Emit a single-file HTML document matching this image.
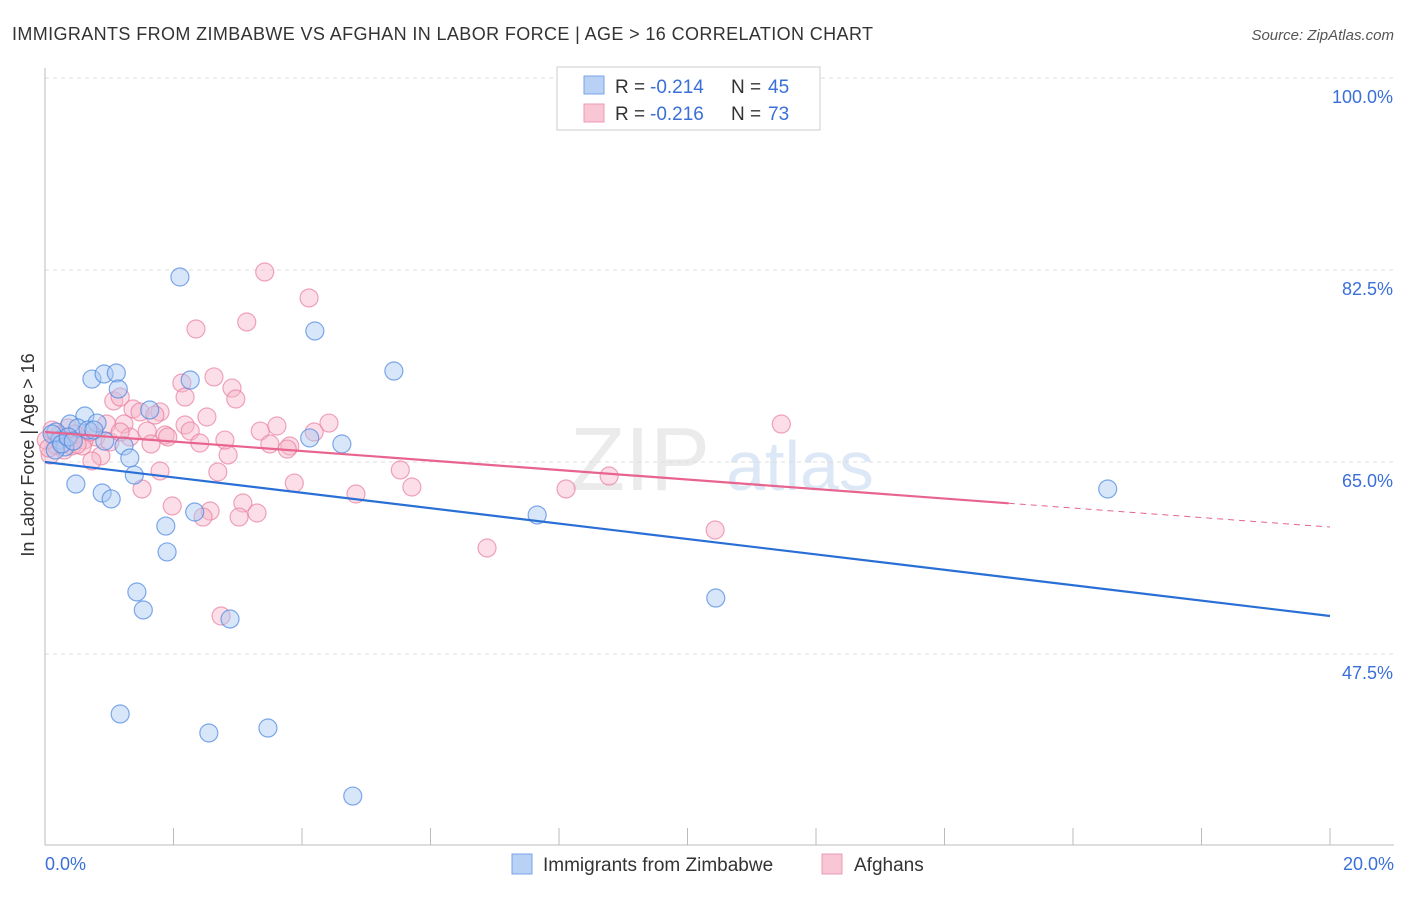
<!DOCTYPE html>
<html><head><meta charset="utf-8"><style>
body{margin:0;background:#fff;font-family:"Liberation Sans",sans-serif;}
svg text{font-family:"Liberation Sans",sans-serif;}
</style></head><body>
<svg id="chart" width="1406" height="892">
<text x="12" y="40" font-size="18" fill="#333" textLength="861" lengthAdjust="spacing">IMMIGRANTS FROM ZIMBABWE VS AFGHAN IN LABOR FORCE | AGE &gt; 16 CORRELATION CHART</text>
<text x="1394" y="40" font-size="15" fill="#555" font-style="italic" text-anchor="end">Source: ZipAtlas.com</text>
<text x="640" y="490" font-size="90" fill="#ebebeb" font-family="Liberation Serif" text-anchor="middle">ZIP</text>
<text x="800" y="490" font-size="70" fill="#dde8f7" text-anchor="middle">atlas</text>
<g id="grid"></g><g id="axes"></g><g id="pts"></g><g id="trends"></g>
<text transform="translate(34,455) rotate(-90)" font-size="18" fill="#333" text-anchor="middle">In Labor Force | Age &gt; 16</text>
<text x="45" y="870" font-size="18" fill="#3a6fd8">0.0%</text>
<text x="1394" y="870" font-size="18" fill="#3a6fd8" text-anchor="end">20.0%</text>
<g>
<rect x="557" y="67" width="263" height="63" fill="#fff" stroke="#ccc"/>
<rect x="584" y="76" width="20" height="18" fill="#b9d1f5" stroke="#7ba3e6"/>
<rect x="584" y="104" width="20" height="18" fill="#f8c6d5" stroke="#ee9bb5"/>
<text x="615" y="93" font-size="19" fill="#333">R =</text>
<text x="650" y="93" font-size="19" fill="#3a6fd8">-0.214</text>
<text x="731" y="93" font-size="19" fill="#333">N =</text>
<text x="768" y="93" font-size="19" fill="#3a6fd8">45</text>
<text x="615" y="120" font-size="19" fill="#333">R =</text>
<text x="650" y="120" font-size="19" fill="#3a6fd8">-0.216</text>
<text x="731" y="120" font-size="19" fill="#333">N =</text>
<text x="768" y="120" font-size="19" fill="#3a6fd8">73</text>
</g>
<g>
<rect x="512" y="854" width="20" height="20" fill="#b9d1f5" stroke="#7ba3e6"/>
<text x="543" y="871" font-size="19" fill="#333">Immigrants from Zimbabwe</text>
<rect x="822" y="854" width="20" height="20" fill="#f8c6d5" stroke="#ee9bb5"/>
<text x="854" y="871" font-size="19" fill="#333">Afghans</text>
</g>
</svg>
<script>
const yTicks=[100,82.5,65,47.5];
const yTickLabels=["100.0%","82.5%","65.0%","47.5%"];
const xTicks=[0,2,4,6,8,10,12,14,16,18,20];
const blueX=[2.10,4.20,5.43,0.73,0.92,1.11,1.14,2.26,1.63,0.62,0.39,0.81,0.51,0.67,0.17,0.23,0.31,0.93,1.23,1.32,1.39,0.48,0.89,1.03,1.88,1.90,2.33,1.43,1.53,2.88,1.17,2.55,3.47,4.79,4.12,4.62,7.66,10.44,16.54,0.11,0.16,0.26,0.36,0.76,0.44];
const blueY=[81.86,76.94,73.29,72.56,73.02,73.11,71.65,72.47,69.74,69.19,68.46,68.55,68.10,67.91,67.73,67.00,66.37,66.91,66.46,65.36,63.81,62.99,62.17,61.63,59.16,56.80,60.44,53.15,51.51,50.69,42.03,40.30,40.75,34.55,67.19,66.64,60.17,52.60,62.54,67.55,66.09,66.64,67.28,67.91,66.91];
const pinkX=[3.42,4.11,2.35,3.14,2.63,2.13,2.91,2.18,2.97,1.07,1.17,1.37,1.79,1.48,1.71,2.52,4.42,11.46,0.96,1.23,1.59,1.87,2.18,2.26,1.91,3.35,3.61,4.19,0.79,1.32,2.41,1.65,3.50,3.81,3.77,2.85,0.87,0.73,1.79,2.69,5.53,8.78,3.88,5.71,1.51,4.84,8.11,1.98,3.08,2.57,3.30,3.02,2.46,6.88,10.43,2.74,0.23,0.30,0.42,0.61,0.08,0.17,0.36,0.47,0.02,1.01,0.58,0.70,1.17,0.06,0.11,2.80,0.5];
const pinkY=[82.32,79.95,77.12,77.76,72.75,72.20,71.74,70.92,70.74,70.56,70.92,69.83,69.56,69.56,69.28,69.10,68.55,68.46,68.46,68.46,67.82,67.46,68.37,67.82,67.28,67.82,68.28,67.73,67.28,67.28,66.73,66.64,66.64,66.46,66.18,65.64,65.55,65.09,64.18,64.09,64.27,63.72,63.08,62.72,62.54,62.08,62.54,60.99,61.26,60.53,60.35,59.98,59.98,57.16,58.80,50.96,67.46,66.09,66.46,67.00,65.64,66.55,68.10,67.55,67.00,66.82,66.46,67.73,67.73,66.27,67.91,67.00,66.6];
const blueTrend=[65.0,50.96];
const pinkTrend=[67.73,59.07];
const pinkSolidEnd=15.0;
const NS="http://www.w3.org/2000/svg";
const xS=v=>45+v/20*1285;
const yS=v=>78+(100-v)*10.971;
function mk(parent,tag,attrs){const e=document.createElementNS(NS,tag);for(const k in attrs)e.setAttribute(k,attrs[k]);document.getElementById(parent).appendChild(e);return e;}
yTicks.forEach((t,i)=>{
 const l=mk('grid','line',{x1:45,x2:1394,y1:yS(t),y2:yS(t),stroke:'#ddd','stroke-dasharray':'4,4'});
 
 
 const tx=mk('grid','text',{x:1393,y:yS(t)+25,'font-size':18,fill:'#3a6fd8','text-anchor':'end'});
 tx.textContent=yTickLabels[i];
 
 
});
const ax=mk('axes','line',{x1:45,x2:45,y1:68,y2:845,stroke:'#bbb'});


const bx=mk('axes','line',{x1:45,x2:1394,y1:845,y2:845,stroke:'#bbb'});


xTicks.forEach(t=>{
 const l=mk('axes','line',{x1:xS(t),x2:xS(t),y1:828,y2:845,stroke:'#bbb'});
 
 
});
function dots(xs,ys,fill,stroke,name){
 xs.forEach((x,i)=>{
  const c=mk('pts','circle',{cx:xS(x),cy:yS(ys[i]),r:9,fill:fill,'fill-opacity':0.45,stroke:stroke,'stroke-opacity':0.7,'stroke-width':1.2});
  
  
 });
}
dots(pinkX,pinkY,'#f7b6c9','#e97f9f','afghan-point');
dots(blueX,blueY,'#a9c7f2','#4a86e0','zimbabwe-point');
const bt=mk('trends','line',{x1:xS(0),y1:yS(blueTrend[0]),x2:xS(20),y2:yS(blueTrend[1]),stroke:'#2a6fd6','stroke-width':2.2});


const pv=x=>pinkTrend[0]+(pinkTrend[1]-pinkTrend[0])*x/20;
const pt=mk('trends','line',{x1:xS(0),y1:yS(pv(0)),x2:xS(pinkSolidEnd),y2:yS(pv(pinkSolidEnd)),stroke:'#e8638e','stroke-width':2.2});


const pd=mk('trends','line',{x1:xS(pinkSolidEnd),y1:yS(pv(pinkSolidEnd)),x2:xS(20),y2:yS(pv(20)),stroke:'#e8638e','stroke-width':1,'stroke-dasharray':'6,5'});


</script>
</body></html>
